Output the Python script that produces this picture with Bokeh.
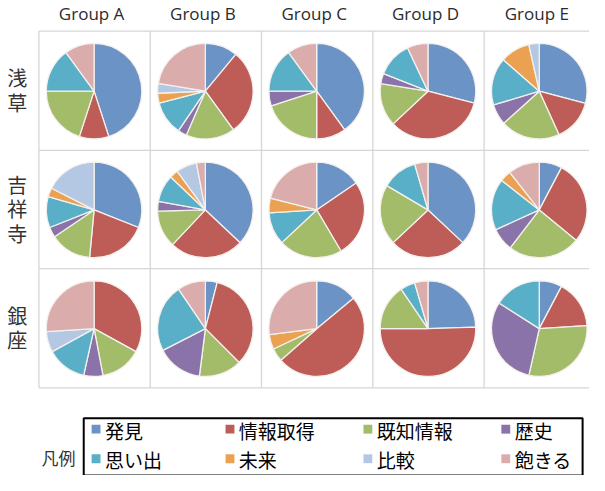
from bokeh.plotting import figure
from bokeh.models import Range1d
from bokeh.core.properties import value
from bokeh.embed import file_html
from bokeh.resources import INLINE
import math

categories = ["発見", "情報取得", "既知情報", "歴史", "思い出", "未来", "比較", "飽きる"]
colors = ["#6C93C6", "#BE5C58", "#A2BC69", "#8A73A8", "#5AAFC8", "#EBA152", "#B4C8E4", "#DAACAC"]
groups = ["Group A", "Group B", "Group C", "Group D", "Group E"]
places = ["浅草", "吉祥寺", "銀座"]

# percentages per group (category order as above)
asakusa = [
    [45, 10, 20, 0, 15, 0, 0, 10],
    [11, 29, 16.5, 3, 11.5, 3.3, 3.3, 22.4],
    [40, 10, 20, 5, 15, 0, 0, 10],
    [29, 34, 14.5, 3.5, 12, 0, 0, 7],
    [29, 14, 20, 7, 16, 10, 3.5, 0],
]
kichijoji = [
    [31, 20.5, 14, 3.5, 10.5, 3, 17.5, 0],
    [37, 25, 12.5, 3.3, 9.2, 2.9, 7, 3],
    [15.5, 26, 21.5, 0, 11, 5, 0, 21],
    [37, 26, 20.5, 0, 12, 0, 0, 4.5],
    [7.7, 28.3, 24.4, 7.8, 17.4, 3.8, 0, 10.6],
]
ginza = [
    [0, 33, 14, 6.5, 13.5, 0, 7, 26],
    [4, 33.5, 14.5, 15.5, 23, 0, 0, 9.5],
    [14, 49.5, 4.5, 0, 0, 5, 0, 27],
    [24.5, 50.5, 15.5, 0, 5, 0, 0, 4.5],
    [7.7, 16.3, 29.5, 30.5, 16, 0, 0, 0],
]
rows_data = [asakusa, kichijoji, ginza]

H = 491
def Y(yref):
    return H - yref

p = figure(width=589, height=475, output_backend="svg", toolbar_location=None,
           x_range=Range1d(4, 602), y_range=Range1d(Y(488), Y(6)),
           min_border=0, min_border_left=0, min_border_right=0,
           min_border_top=0, min_border_bottom=0)
p.axis.visible = False
p.xgrid.visible = False
p.ygrid.visible = False
p.outline_line_color = None
p.background_fill_color = "white"
p.border_fill_color = "white"

# grid layout
x0, cw = 43, 113
row_edges = [37, 158, 278, 399]
col_edges = [x0 + i * cw for i in range(6)]
grid_col = "#D6D6D6"
p.segment(x0=[x0] * 4, y0=[Y(r) for r in row_edges], x1=[col_edges[-1]] * 4,
          y1=[Y(r) for r in row_edges], line_color=grid_col, line_width=1.3)
p.segment(x0=col_edges, y0=[Y(row_edges[0])] * 6, x1=col_edges,
          y1=[Y(row_edges[-1])] * 6, line_color=grid_col, line_width=1.3)

radius = 48.5
xs, ys, sa, ea, cs = [], [], [], [], []
for ri, rdata in enumerate(rows_data):
    cy = Y((row_edges[ri] + row_edges[ri + 1]) / 2 + 0.5)
    for gi, vals in enumerate(rdata):
        cx = x0 + cw * gi + cw / 2 - 0.5
        total = float(sum(vals))
        cum = 0.0
        for ci, v in enumerate(vals):
            if v <= 0:
                continue
            a0 = cum / total * 2 * math.pi
            cum += v
            a1 = cum / total * 2 * math.pi
            xs.append(cx); ys.append(cy)
            sa.append(math.pi / 2 - a1); ea.append(math.pi / 2 - a0)
            cs.append(colors[ci])
p.wedge(x=xs, y=ys, radius=radius, start_angle=sa, end_angle=ea,
        fill_color=cs, line_color="#F4F0EC", line_width=1.3)

# column headers
p.text(x=[x0 + cw * i + cw / 2 - 3 for i in range(5)], y=[Y(19)] * 5, text=groups,
       text_align="center", text_baseline="middle",
       text_font=value("Open Sans"), text_font_size=value("17px"), text_color="#2b2b2b")

# row labels (vertical)
lx, ly, lt = [], [], []
for ri, name in enumerate(places):
    cyref = (row_edges[ri] + row_edges[ri + 1]) / 2 + 0.5
    n = len(name)
    for k, ch in enumerate(name):
        lx.append(21)
        ly.append(Y(cyref + (k - (n - 1) / 2) * 25 - 1))
        lt.append(ch)
p.text(x=lx, y=ly, text=lt, text_align="center", text_baseline="middle",
       text_font=value("Noto Sans CJK JP"), text_font_size=value("20px"), text_color="#333333")

# legend
p.quad(left=[88.5], right=[595], top=[Y(430)], bottom=[Y(488)],
       fill_color=None, line_color="black", line_width=2)
leg_cols = [101, 237, 377, 517]
leg_rows = [441, 471]
sx, sy, tx, ty = [], [], [], []
for ci, cat in enumerate(categories):
    r, c = divmod(ci, 4)
    sx.append(leg_cols[c]); sy.append(Y(leg_rows[r]))
    tx.append(leg_cols[c] + 9); ty.append(Y(leg_rows[r] + 1))
p.rect(x=sx, y=sy, width=9, height=9, fill_color=colors, line_color=None)
p.text(x=tx, y=ty, text=categories, text_align="left", text_baseline="middle",
       text_font=value("Noto Sans CJK JP"), text_font_size=value("19px"), text_color="black")
p.text(x=[63], y=[Y(470)], text=["凡例"], text_align="center", text_baseline="middle",
       text_font=value("Noto Sans CJK JP"), text_font_size=value("17px"), text_color="#333333")

open("out.html", "w").write(file_html(p, INLINE))
